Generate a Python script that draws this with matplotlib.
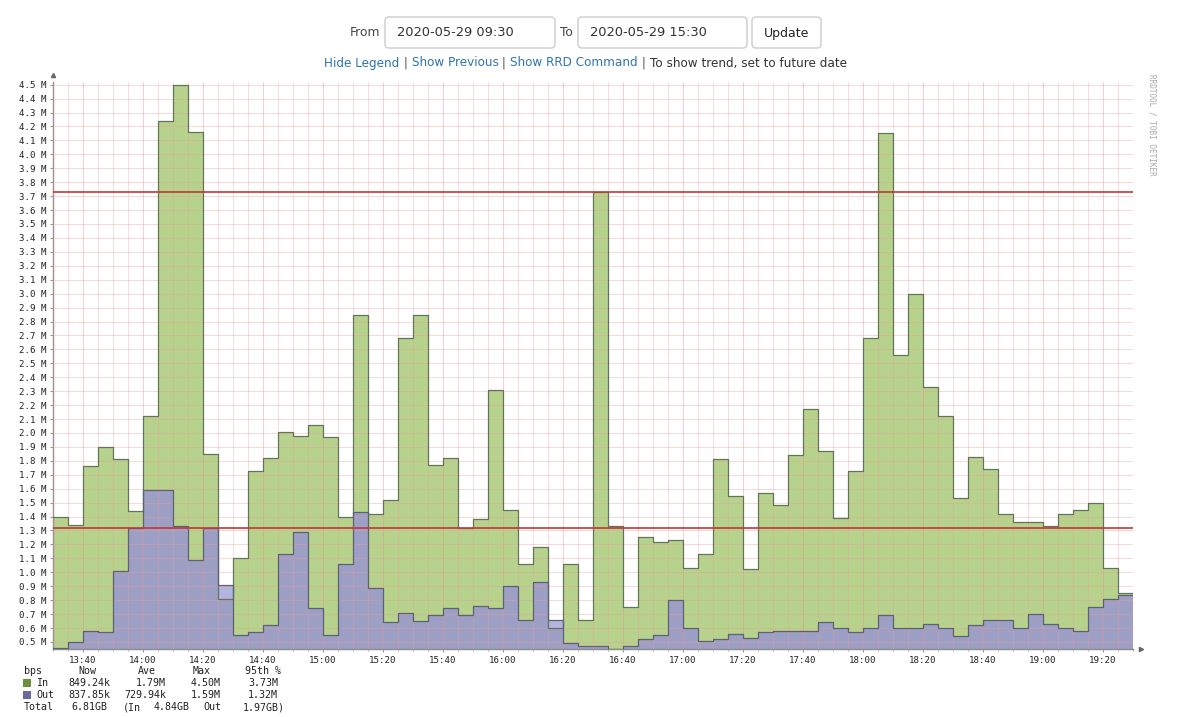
import numpy as np
import pandas as pd
import matplotlib
matplotlib.use("Agg")
import matplotlib.pyplot as plt
import matplotlib.dates as mdates
from matplotlib.ticker import MultipleLocator, FuncFormatter
from matplotlib.patches import FancyBboxPatch, Rectangle

# traffic, Mbit/s, one value per 5 minutes starting 13:30
start_time = "2020-05-29 13:30"
in_vals = [1.40, 1.34, 1.76, 1.90, 1.81, 1.44, 2.12, 4.24, 4.50, 4.16,
           1.85, 0.81, 1.10, 1.73, 1.82, 2.01, 1.98, 2.06, 1.97, 1.40,
           2.85, 1.42, 1.52, 2.68, 2.85, 1.77, 1.82, 1.32, 1.38, 2.31,
           1.45, 1.06, 1.18, 0.60, 1.06, 0.66, 3.73, 1.33, 0.75, 1.25,
           1.22, 1.23, 1.03, 1.13, 1.81, 1.55, 1.02, 1.57, 1.48, 1.84,
           2.17, 1.87, 1.39, 1.73, 2.68, 4.15, 2.56, 3.00, 2.33, 2.12,
           1.53, 1.83, 1.74, 1.42, 1.36, 1.36, 1.33, 1.42, 1.45, 1.50,
           1.03, 0.85]
out_vals = [0.46, 0.50, 0.58, 0.57, 1.01, 1.32, 1.59, 1.59, 1.33, 1.09,
            1.32, 0.91, 0.55, 0.57, 0.62, 1.13, 1.29, 0.74, 0.55, 1.06,
            1.43, 0.89, 0.64, 0.71, 0.65, 0.69, 0.74, 0.69, 0.76, 0.74,
            0.90, 0.66, 0.93, 0.66, 0.49, 0.47, 0.47, 0.45, 0.47, 0.52,
            0.55, 0.80, 0.60, 0.51, 0.52, 0.56, 0.53, 0.57, 0.58, 0.58,
            0.58, 0.64, 0.60, 0.57, 0.60, 0.69, 0.60, 0.60, 0.63, 0.60,
            0.54, 0.62, 0.66, 0.66, 0.60, 0.70, 0.63, 0.60, 0.58, 0.75,
            0.81, 0.84]
p95_in = 3.73
p95_out = 1.32

legend_head = ["bps", "Now", "Ave", "Max", "95th %"]
legend_in = ["In", "849.24k", "1.79M", "4.50M", "3.73M"]
legend_out = ["Out", "837.85k", "729.94k", "1.59M", "1.32M"]
legend_total = ["Total", "6.81GB", "(In", "4.84GB", "Out", "1.97GB)"]

from_text = "2020-05-29 09:30"
to_text = "2020-05-29 15:30"
links = ["Hide Legend", "Show Previous", "Show RRD Command"]
hint = "To show trend, set to future date"

green = "#b7d28d"
purple = "#9d9fc5"
lavender = "#b3b4e0"
W, H = 1200, 717

fig = plt.figure(figsize=(12, 7.17), dpi=100)
ax = fig.add_axes([53 / W, 1 - 648.9 / H, 1080 / W, (648.9 - 81.9) / H])

t = pd.date_range(start_time, periods=len(in_vals) + 1, freq="5min").to_pydatetime()
inv = np.append(in_vals, in_vals[-1])
outv = np.append(out_vals, out_vals[-1])
y0 = 0.45

ax.fill_between(t, y0, inv, step="post", color=green, lw=0, zorder=1)
ax.fill_between(t, y0, np.minimum(inv, outv), step="post", color=purple, lw=0, zorder=1.5)
ax.fill_between(t, inv, np.maximum(inv, outv), step="post", color=lavender, lw=0, zorder=1.5)
ax.step(t, inv, where="post", color="#62745a", lw=0.9, zorder=3)
ax.step(t, outv, where="post", color="#5c6270", lw=0.9, zorder=3)

ax.axhline(p95_in, color="#c03838", lw=1.2, zorder=4)
ax.axhline(p95_out, color="#c03838", lw=1.2, zorder=4)

ax.set_xlim(t[0], t[-1])
ax.set_ylim(y0, 4.52)

ax.xaxis.set_major_locator(mdates.MinuteLocator(byminute=[0, 20, 40]))
ax.xaxis.set_minor_locator(mdates.MinuteLocator(byminute=range(0, 60, 5)))
ax.xaxis.set_major_formatter(mdates.DateFormatter("%H:%M"))
ax.yaxis.set_major_locator(MultipleLocator(0.1))
ax.yaxis.set_major_formatter(FuncFormatter(lambda v, p: "%.1f M" % v))

ax.set_axisbelow(False)
ax.grid(which="major", axis="x", color="#f08c8c", lw=0.6, alpha=0.5)
ax.grid(which="minor", axis="x", color="#f09a9a", lw=0.6, alpha=0.4)
ax.grid(which="major", axis="y", color="#f09a9a", lw=0.6, alpha=0.45)

for s in ["top", "right"]:
    ax.spines[s].set_visible(False)
for s in ["left", "bottom"]:
    ax.spines[s].set_color("#8a8a8a")
    ax.spines[s].set_linewidth(1.0)
ax.plot(0, 1.012, marker="^", color="#666", ms=3, transform=ax.transAxes, clip_on=False)
ax.plot(1.007, 0, marker=">", color="#666", ms=3, transform=ax.transAxes, clip_on=False)

ax.tick_params(which="both", length=2, color="#999", labelsize=6.6, labelcolor="#222", pad=3)
ax.tick_params(axis="x", which="minor", length=1.5)
for lab in ax.get_xticklabels() + ax.get_yticklabels():
    lab.set_family("DejaVu Sans Mono")

fig.text(1152 / W, 1 - 74 / H, "RRDTOOL / TOBI OETIKER", rotation=270, ha="center", va="top",
         family="DejaVu Sans Mono", fontsize=5.5, color="#a8a8a8")

# overlay in pixel coordinates for the page header and legend
ov = fig.add_axes([0, 0, 1, 1], facecolor="none")
ov.set_xlim(0, W)
ov.set_ylim(H, 0)
ov.axis("off")

for x0, x1 in [(385, 555), (578, 747), (752, 821)]:
    ov.add_patch(FancyBboxPatch((x0, 17), x1 - x0, 31, boxstyle="round,pad=0,rounding_size=4",
                                fc="white", ec="#cccccc", lw=1))
sans = "DejaVu Sans"
ov.text(380, 33, "From", ha="right", va="center", fontsize=8.8, color="#444", family=sans)
ov.text(566, 33, "To", ha="center", va="center", fontsize=8.8, color="#444", family=sans)
ov.text(397, 33, from_text, ha="left", va="center", fontsize=9.4, color="#333", family=sans)
ov.text(590, 33, to_text, ha="left", va="center", fontsize=9.4, color="#333", family=sans)
ov.text(786.5, 33, "Update", ha="center", va="center", fontsize=9, color="#222", family=sans)

# links row, laid out piece by piece and centred like the page
link = "#2f74b5"
pieces = []
for s in links:
    pieces.append((s, link))
    pieces.append((" | ", "#555"))
pieces.append((hint, "#333"))
renderer = fig.canvas.get_renderer()
texts = [ov.text(0, 63, s, ha="left", va="center", fontsize=8.65, color=c, family=sans)
         for s, c in pieces]
widths = [tx.get_window_extent(renderer).width for tx in texts]
x = 585.5 - sum(widths) / 2
for tx, w in zip(texts, widths):
    tx.set_x(x)
    x += w

mono = "DejaVu Sans Mono"
fs = 7.2
head_x = [(24, "left"), (87, "center"), (147, "center"), (202, "center"), (263, "center")]
for (x, a), s in zip(head_x, legend_head):
    ov.text(x, 671, s, ha=a, va="center", fontsize=fs, color="#222", family=mono)
val_x = [110, 166, 221, 278]
for y, row, sq in [(683, legend_in, "#6b8f3c"), (695, legend_out, "#6a6aa0")]:
    ov.add_patch(Rectangle((23, y - 4), 8, 8, fc=sq, ec="none"))
    ov.text(36, y, row[0], ha="left", va="center", fontsize=fs, color="#222", family=mono)
    for x, s in zip(val_x, row[1:]):
        ov.text(x, y, s, ha="right", va="center", fontsize=fs, color="#222", family=mono)
tot_x = [(24, "left"), (107, "right"), (123, "left"), (190, "right"), (203, "left"), (285, "right")]
for (x, a), s in zip(tot_x, legend_total):
    ov.text(x, 707, s, ha=a, va="center", fontsize=fs, color="#222", family=mono)

fig.savefig("out.png", dpi=100, facecolor="white")
